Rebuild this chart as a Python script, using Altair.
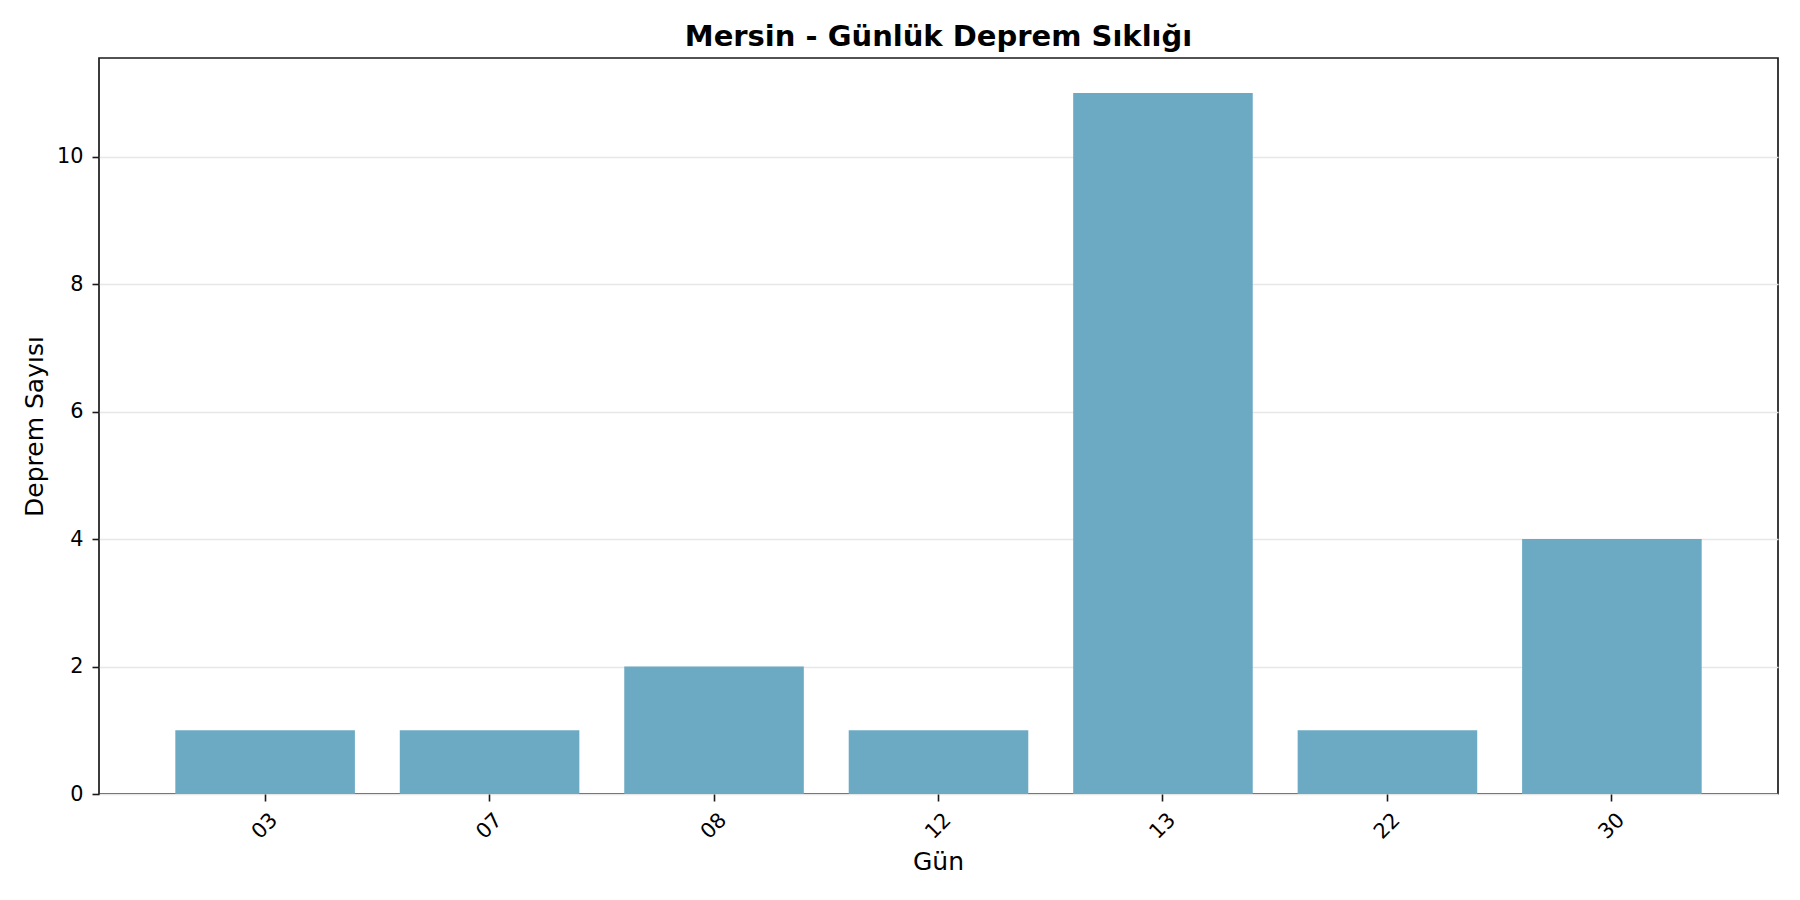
import altair as alt
import pandas as pd

days = ["03", "07", "08", "12", "13", "22", "30"]
counts = [1, 1, 2, 1, 11, 1, 4]
y_ticks = [0, 2, 4, 6, 8, 10]

df = pd.DataFrame({"Gün": days, "Deprem Sayısı": counts})

FONT = "DejaVu Sans"

chart = alt.Chart(df).mark_bar(color="#6CAAC4").encode(
    x=alt.X(
        "Gün:N",
        sort=days,
        scale=alt.Scale(paddingInner=0.2, paddingOuter=0.34),
        axis=alt.Axis(
            title="Gün",
            labelAngle=-45,
            labelAlign="center",
            labelBaseline="middle",
            labelPadding=25,
            labelFontSize=20.8,
            labelFont=FONT,
            labelColor="black",
            tickSize=7,
            tickWidth=1.6,
            tickColor="#1a1a1a",
            domain=False,
            grid=False,
            titleFont=FONT,
            titleFontSize=25,
            titleFontWeight="normal",
            titleColor="black",
            titleBaseline="alphabetic",
            titleY=75,
            titleX=839,
        ),
    ),
    y=alt.Y(
        "Deprem Sayısı:Q",
        scale=alt.Scale(domain=[0, 11.55], nice=False, zero=True),
        axis=alt.Axis(
            title="Deprem Sayısı",
            values=y_ticks,
            labelFontSize=20.8,
            labelFont=FONT,
            labelColor="black",
            labelPadding=9,
            tickSize=7,
            tickWidth=1.6,
            tickColor="#1a1a1a",
            domain=False,
            grid=True,
            gridColor="#e7e7e7",
            gridWidth=1.6,
            titleFont=FONT,
            titleFontSize=25,
            titleFontWeight="normal",
            titleColor="black",
            titleAngle=-90,
            titleBaseline="alphabetic",
            titleAlign="center",
            titleX=-57,
            titleY=368,
        ),
    ),
).properties(
    width=1679,
    height=736,
    title=alt.TitleParams(
        "Mersin - Günlük Deprem Sıklığı",
        font=FONT,
        fontSize=29,
        fontWeight="bold",
        color="black",
        anchor="middle",
        baseline="alphabetic",
        offset=13,
        dy=30,
    ),
    autosize=alt.AutoSizeParams(type="none"),
    padding={"left": 91, "top": 50, "right": 14, "bottom": 90},
).configure_view(
    stroke="#1a1a1a",
    strokeWidth=1.7,
)

chart.save("out.html", embed_options={"renderer": "svg", "actions": False})
